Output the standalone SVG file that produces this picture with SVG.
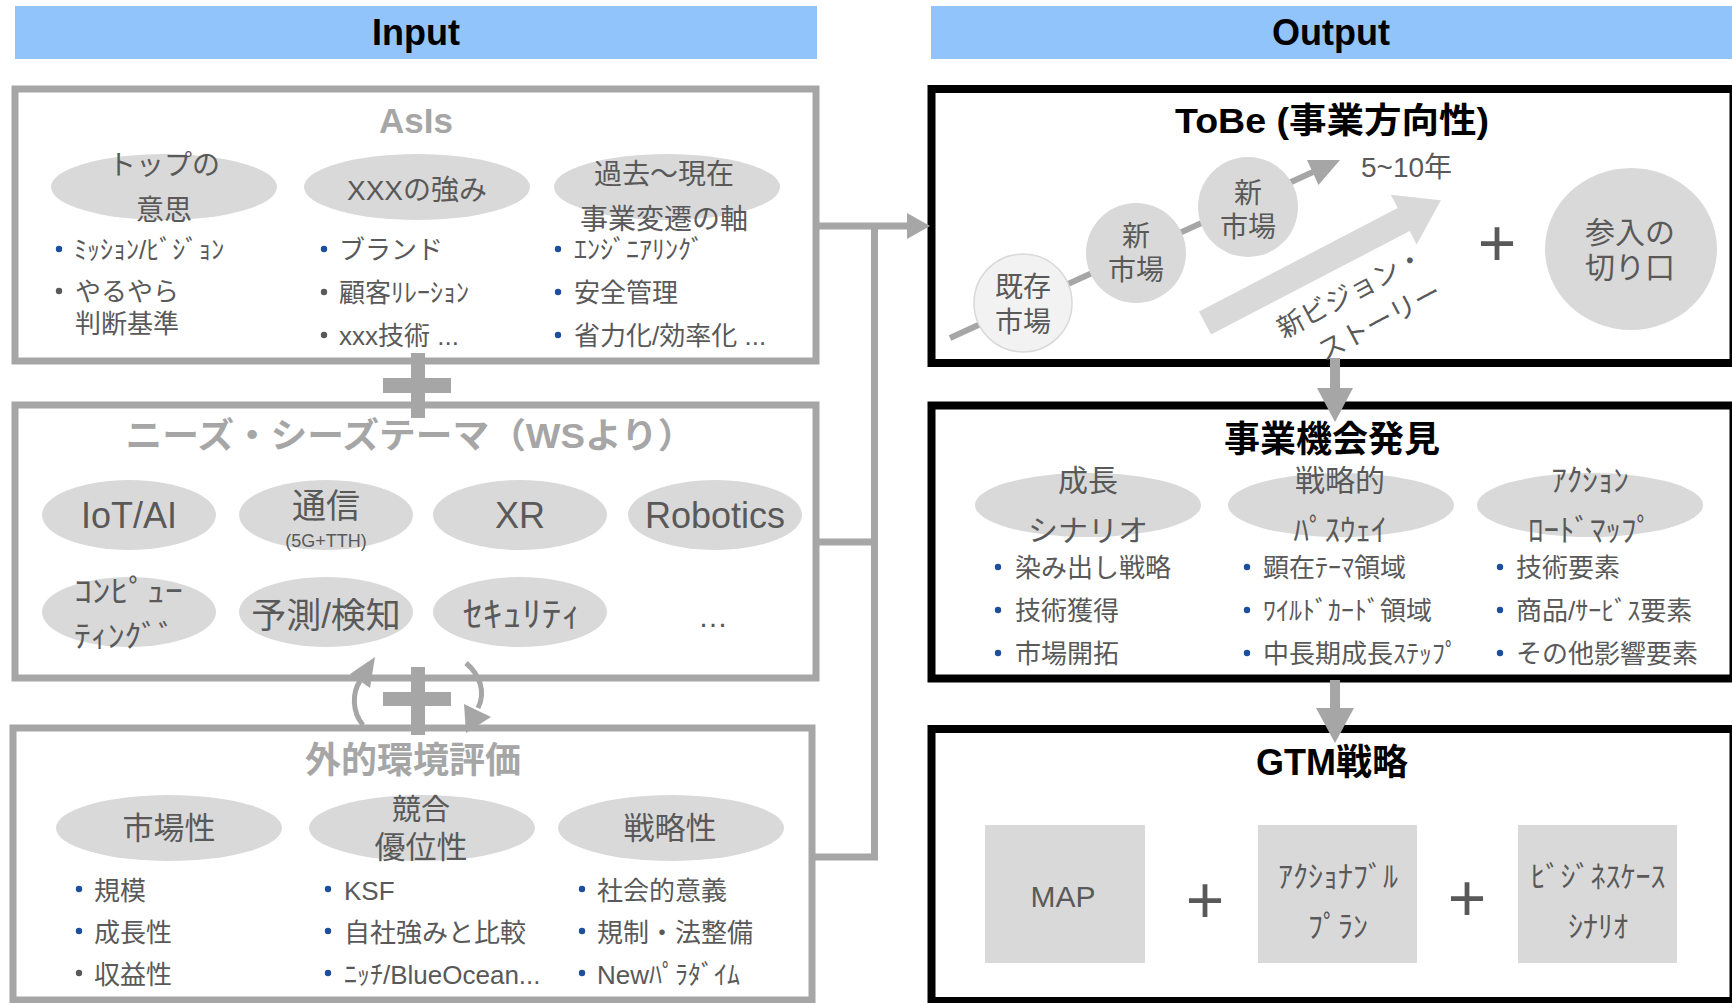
<svg xmlns="http://www.w3.org/2000/svg" width="1732" height="1003" viewBox="0 0 1732 1003">
<style>
text{font-family:"Liberation Sans","Noto Sans CJK JP",sans-serif}
.hdr{fill:#92c4fc}
.ht{font-size:36px;font-weight:bold;fill:#000;text-anchor:middle}
.gbox{fill:#fff;stroke:#a6a6a6;stroke-width:7}
.kbox{fill:#fff;stroke:#000;stroke-width:8}
.gt{font-size:35px;font-weight:bold;fill:#a6a6a6;text-anchor:middle}
.kt{font-size:36px;font-weight:bold;fill:#000;text-anchor:middle}
.el{fill:#d9d9d9}
.et{font-size:28px;fill:#595959;text-anchor:middle}
.bt{font-size:26px;fill:#595959}
.bb{fill:#1b4f9c}
.bg{fill:#595959}
.ln{stroke:#a6a6a6;fill:none}
.gf{fill:#a6a6a6}
.pl{font-size:66px;fill:#595959;text-anchor:middle}
</style>

<g id="header-input">
<rect class="hdr" x="15" y="6" width="802" height="53"/>
<text class="ht" x="416" y="45">Input</text>
</g>
<g id="header-output">
<rect class="hdr" x="931" y="6" width="801" height="53"/>
<text class="ht" x="1331" y="45">Output</text>
</g>

<g id="asis">
<rect class="gbox" x="15" y="89" width="801" height="272"/>
<text class="gt" x="416" y="133">AsIs</text>
<ellipse class="el" cx="164" cy="187" rx="113" ry="33"/>
<ellipse class="el" cx="417" cy="187" rx="113" ry="33"/>
<ellipse class="el" cx="667" cy="187" rx="113" ry="33"/>
<text class="et" x="164" y="175">トップの</text>
<text class="et" x="164" y="220">意思</text>
<text class="et" x="417" y="200">XXXの強み</text>
<text class="et" x="664" y="184">過去～現在</text>
<text class="et" x="664" y="229">事業変遷の軸</text>
<circle class="bb" cx="59" cy="249" r="3.2"/>
<text class="bt" x="74" y="259">ﾐｯｼｮﾝ/ﾋﾞｼﾞｮﾝ</text>
<circle class="bg" cx="59" cy="291" r="3.2"/>
<text class="bt" x="75" y="301">やるやら</text>
<text class="bt" x="75" y="333">判断基準</text>
<circle class="bb" cx="324" cy="249" r="3.2"/>
<text class="bt" x="339" y="259">ブランド</text>
<circle class="bg" cx="324" cy="292" r="3.2"/>
<text class="bt" x="339" y="302">顧客ﾘﾚｰｼｮﾝ</text>
<circle class="bg" cx="324" cy="335" r="3.2"/>
<text class="bt" x="339" y="345">xxx技術 ...</text>
<circle class="bb" cx="558" cy="249" r="3.2"/>
<text class="bt" x="574" y="259">ｴﾝｼﾞﾆｱﾘﾝｸﾞ</text>
<circle class="bb" cx="558" cy="292" r="3.2"/>
<text class="bt" x="574" y="302">安全管理</text>
<circle class="bb" cx="558" cy="335" r="3.2"/>
<text class="bt" x="574" y="345">省力化/効率化 ...</text>
</g>

<g id="needs-seeds">
<rect class="gbox" x="15" y="405" width="801" height="273"/>
<text class="gt" x="410" y="448" textLength="569" lengthAdjust="spacingAndGlyphs">ニーズ・シーズテーマ（WSより）</text>
<ellipse class="el" cx="129" cy="515" rx="87" ry="35"/>
<ellipse class="el" cx="326" cy="515" rx="87" ry="35"/>
<ellipse class="el" cx="520" cy="515" rx="87" ry="35"/>
<ellipse class="el" cx="715" cy="515" rx="87" ry="35"/>
<ellipse class="el" cx="129" cy="612" rx="87" ry="35"/>
<ellipse class="el" cx="326" cy="612" rx="87" ry="35"/>
<ellipse class="el" cx="520" cy="612" rx="87" ry="35"/>
<text class="et" x="129" y="528" style="font-size:36px">IoT/AI</text>
<text class="et" x="326" y="518" style="font-size:34px">通信</text>
<text class="et" x="326" y="547" style="font-size:18px">(5G+TTH)</text>
<text class="et" x="520" y="528" style="font-size:36px">XR</text>
<text class="et" x="715" y="528" style="font-size:36px">Robotics</text>
<text class="et" x="74" y="602" style="font-size:31px;text-anchor:start" textLength="109" lengthAdjust="spacingAndGlyphs">ｺﾝﾋﾟｭｰ</text>
<text class="et" x="74" y="647" style="font-size:31px;text-anchor:start" textLength="101" lengthAdjust="spacingAndGlyphs">ﾃｨﾝｸﾞﾞ</text>
<text class="et" x="326" y="628" style="font-size:35px">予測/検知</text>
<text class="et" x="522" y="627" style="font-size:35px" textLength="118" lengthAdjust="spacingAndGlyphs">ｾｷｭﾘﾃｨ</text>
<text class="et" x="713" y="627" style="font-size:30px">…</text>
</g>

<g id="external">
<rect class="gbox" x="13" y="728" width="799" height="272"/>
<text class="gt" x="413" y="773" style="font-size:36px">外的環境評価</text>
<ellipse class="el" cx="169" cy="828" rx="113" ry="33"/>
<ellipse class="el" cx="422" cy="828" rx="113" ry="33"/>
<ellipse class="el" cx="671" cy="828" rx="113" ry="33"/>
<text class="et" x="169" y="839" style="font-size:31px">市場性</text>
<text class="et" x="421" y="820" style="font-size:29px">競合</text>
<text class="et" x="421" y="858" style="font-size:31px">優位性</text>
<text class="et" x="670" y="839" style="font-size:31px">戦略性</text>
<circle class="bb" cx="79" cy="889" r="3.2"/>
<text class="bt" x="94" y="900">規模</text>
<circle class="bb" cx="79" cy="931" r="3.2"/>
<text class="bt" x="94" y="942">成長性</text>
<circle class="bg" cx="79" cy="973" r="3.2"/>
<text class="bt" x="94" y="984">収益性</text>
<circle class="bb" cx="328" cy="889" r="3.2"/>
<text class="bt" x="344" y="900">KSF</text>
<circle class="bb" cx="328" cy="931" r="3.2"/>
<text class="bt" x="344" y="942">自社強みと比較</text>
<circle class="bb" cx="328" cy="973" r="3.2"/>
<text class="bt" x="344" y="984">ﾆｯﾁ/BlueOcean...</text>
<circle class="bb" cx="582" cy="889" r="3.2"/>
<text class="bt" x="597" y="900">社会的意義</text>
<circle class="bb" cx="582" cy="931" r="3.2"/>
<text class="bt" x="597" y="942">規制・法整備</text>
<circle class="bb" cx="582" cy="973" r="3.2"/>
<text class="bt" x="597" y="984">Newﾊﾟﾗﾀﾞｲﾑ</text>
</g>

<g id="tobe">
<rect class="kbox" x="931.5" y="89" width="802" height="274"/>
<text class="kt" x="1332" y="133" style="font-size:35px" textLength="314" lengthAdjust="spacingAndGlyphs">ToBe (事業方向性)</text>
<line class="ln" x1="950" y1="338" x2="1313" y2="172" style="stroke-width:6"/>
<polygon class="gf" points="1340,160 1307,160 1318.5,185"/>
<circle cx="1023" cy="303" r="49" fill="#f2f2f2" stroke="#d9d9d9" stroke-width="1.5"/>
<text class="et" x="1023" y="297">既存</text>
<text class="et" x="1023" y="332">市場</text>
<circle class="el" cx="1136" cy="253" r="50"/>
<text class="et" x="1136" y="246">新</text>
<text class="et" x="1136" y="280">市場</text>
<circle class="el" cx="1248" cy="207" r="50"/>
<text class="et" x="1248" y="203">新</text>
<text class="et" x="1248" y="237">市場</text>
<text class="et" x="1361" y="177" style="text-anchor:start">5~10年</text>
<g transform="translate(1205,323) rotate(-27.5)">
<polygon class="el" points="0,-13 224,-13 224,-28 266,0 224,28 224,13 0,13"/>
</g>
<g transform="translate(1365,307) rotate(-28)">
<text class="et" x="-6" y="-10" style="font-size:27px">新ビジョン・</text>
<text class="et" x="6" y="29" style="font-size:27px">ストーリー</text>
</g>
<text class="pl" x="1497" y="266">+</text>
<ellipse class="el" cx="1631" cy="249" rx="86" ry="81"/>
<text class="et" x="1630" y="243" style="font-size:30px">参入の</text>
<text class="et" x="1630" y="278" style="font-size:30px">切り口</text>
</g>

<g id="opportunity">
<rect class="kbox" x="931.5" y="405.5" width="802" height="273"/>
<text class="kt" x="1332" y="452">事業機会発見</text>
<ellipse class="el" cx="1088" cy="505" rx="113" ry="32"/>
<ellipse class="el" cx="1341" cy="505" rx="113" ry="32"/>
<ellipse class="el" cx="1590" cy="505" rx="113" ry="32"/>
<text class="et" x="1088" y="491" style="font-size:30px">成長</text>
<text class="et" x="1088" y="541" style="font-size:30px">シナリオ</text>
<text class="et" x="1340" y="491" style="font-size:30px">戦略的</text>
<text class="et" x="1340" y="541" style="font-size:31px">ﾊﾟｽｳｪｲ</text>
<text class="et" x="1590" y="491" style="font-size:31px">ｱｸｼｮﾝ</text>
<text class="et" x="1590" y="541" style="font-size:31px">ﾛｰﾄﾞﾏｯﾌﾟ</text>
<circle class="bb" cx="998" cy="567" r="3.2"/>
<text class="bt" x="1015" y="577">染み出し戦略</text>
<circle class="bb" cx="998" cy="610" r="3.2"/>
<text class="bt" x="1015" y="620">技術獲得</text>
<circle class="bb" cx="998" cy="653" r="3.2"/>
<text class="bt" x="1015" y="663">市場開拓</text>
<circle class="bb" cx="1247" cy="567" r="3.2"/>
<text class="bt" x="1263" y="577">顕在ﾃｰﾏ領域</text>
<circle class="bb" cx="1247" cy="610" r="3.2"/>
<text class="bt" x="1263" y="620">ﾜｲﾙﾄﾞｶｰﾄﾞ領域</text>
<circle class="bb" cx="1247" cy="653" r="3.2"/>
<text class="bt" x="1263" y="663">中長期成長ｽﾃｯﾌﾟ</text>
<circle class="bb" cx="1500" cy="567" r="3.2"/>
<text class="bt" x="1516" y="577">技術要素</text>
<circle class="bb" cx="1500" cy="610" r="3.2"/>
<text class="bt" x="1516" y="620">商品/ｻｰﾋﾞｽ要素</text>
<circle class="bb" cx="1500" cy="653" r="3.2"/>
<text class="bt" x="1516" y="663">その他影響要素</text>
</g>

<g id="gtm">
<rect class="kbox" x="931.5" y="729" width="802" height="272"/>
<text class="kt" x="1332" y="775">GTM戦略</text>
<rect class="el" x="985" y="825" width="160" height="138"/>
<rect class="el" x="1258" y="825" width="159" height="138"/>
<rect class="el" x="1518" y="825" width="159" height="138"/>
<text class="et" x="1063" y="907" style="font-size:30px">MAP</text>
<text class="et" x="1338" y="887" style="font-size:30px">ｱｸｼｮﾅﾌﾞﾙ</text>
<text class="et" x="1338" y="937" style="font-size:30px">ﾌﾟﾗﾝ</text>
<text class="et" x="1598" y="887" style="font-size:30px">ﾋﾞｼﾞﾈｽｹｰｽ</text>
<text class="et" x="1598" y="937" style="font-size:30px">ｼﾅﾘｵ</text>
<text class="pl" x="1205" y="923">+</text>
<text class="pl" x="1467" y="921">+</text>
</g>

<g id="connectors">
<path class="ln" d="M819 226 H910 M874.5 226 V857 H815 M819 542 H874.5" style="stroke-width:7"/>
<polygon class="gf" points="907,213 930,226 907,239"/>
<rect class="gf" x="411" y="353" width="14" height="65"/>
<rect class="gf" x="383" y="378" width="68" height="15"/>
<rect class="gf" x="411" y="667" width="14" height="68"/>
<rect class="gf" x="383" y="692" width="68" height="14"/>
<path class="ln" d="M363 725 C352 712 352 693 360 681" style="stroke-width:5"/>
<polygon class="gf" points="350,674 370,688 375,657"/>
<path class="ln" d="M466 663 C480 675 486 692 478 708" style="stroke-width:5"/>
<polygon class="gf" points="464,704 466,733 491,717"/>
<rect class="gf" x="1330" y="358" width="10" height="31"/>
<polygon class="gf" points="1317,388 1353,388 1335,422"/>
<rect class="gf" x="1330" y="680" width="10" height="29"/>
<polygon class="gf" points="1316,708 1354,708 1335,743"/>
</g>
</svg>
